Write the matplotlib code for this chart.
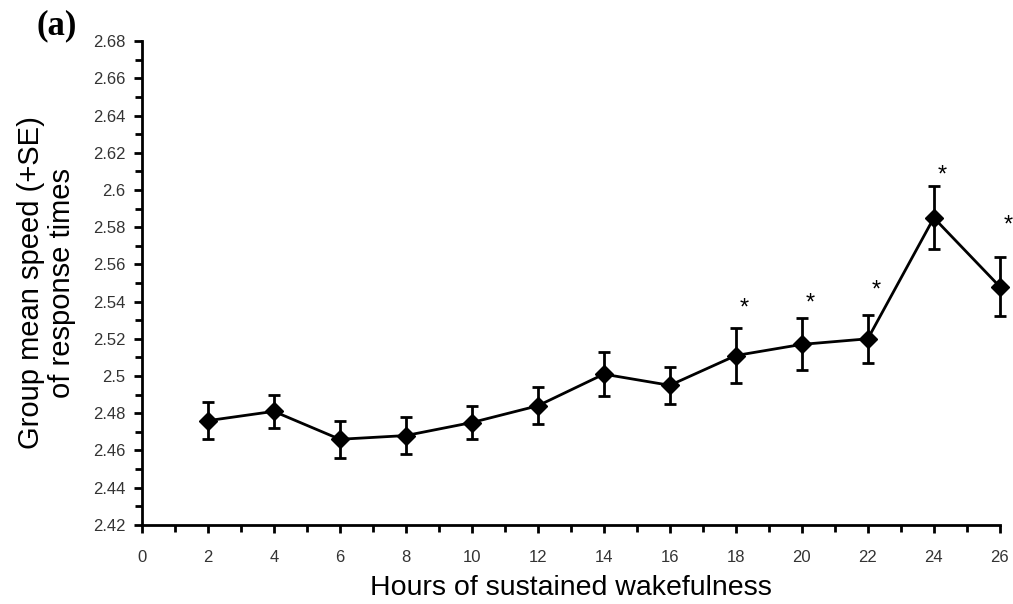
import numpy as np
import matplotlib.pyplot as plt
from matplotlib.ticker import MultipleLocator

# -----------------------------
# Data
# -----------------------------
hours = [2, 4, 6, 8, 10, 12, 14, 16, 18, 20, 22, 24, 26]
mean_speed = [2.476, 2.481, 2.466, 2.468, 2.475, 2.484, 2.501, 2.495,
              2.511, 2.517, 2.520, 2.585, 2.548]
se = [0.010, 0.009, 0.010, 0.010, 0.009, 0.010, 0.012, 0.010,
      0.015, 0.014, 0.013, 0.017, 0.016]

# significance stars
star_hours = [18, 20, 22, 24, 26]
star_y = [2.536, 2.539, 2.546, 2.608, 2.581]

y_ticks = [2.42, 2.44, 2.46, 2.48, 2.5, 2.52, 2.54, 2.56, 2.58, 2.6,
           2.62, 2.64, 2.66, 2.68]
x_ticks = [0, 2, 4, 6, 8, 10, 12, 14, 16, 18, 20, 22, 24, 26]

# -----------------------------
# Plot
# -----------------------------
plt.rcParams['font.family'] = ['Liberation Sans', 'DejaVu Sans']

fig = plt.figure(figsize=(10.13, 6.04), dpi=100)
ax = fig.add_axes([0.140, 0.131, 0.847, 0.801])

ax.errorbar(hours, mean_speed, yerr=se, color='black', lw=2,
            marker='D', markersize=9, capsize=4, capthick=2, elinewidth=2,
            clip_on=False, zorder=3)

for h, y in zip(star_hours, star_y):
    ax.text(h + 0.25, y, '*', ha='center', va='center', fontsize=17)

ax.set_xlim(0, 26)
ax.set_ylim(2.42, 2.68)
ax.set_xticks(x_ticks)
ax.set_xticklabels([str(t) for t in x_ticks])
ax.xaxis.set_minor_locator(MultipleLocator(1))
ax.set_yticks(y_ticks)
ax.set_yticklabels([f"{t:g}" for t in y_ticks])
ax.yaxis.set_minor_locator(MultipleLocator(0.01))

for side in ['top', 'right']:
    ax.spines[side].set_visible(False)
for side in ['left', 'bottom']:
    ax.spines[side].set_linewidth(2)

ax.tick_params(which='major', direction='out', length=6, width=2,
               labelsize=12, pad=6, colors='black', labelcolor='#333333')
ax.tick_params(which='minor', direction='out', length=5, width=2)
ax.tick_params(axis='x', which='major', pad=12)

ax.set_xlabel("Hours of sustained wakefulness", fontsize=20.5, labelpad=7)
ax.set_ylabel("Group mean speed (+SE)\nof response times", fontsize=21,
              labelpad=12, linespacing=1.15)

fig.text(0.036, 0.943, "(a)", fontsize=25, fontweight='bold',
         family='Liberation Serif')

plt.savefig("out.png", dpi=100)
